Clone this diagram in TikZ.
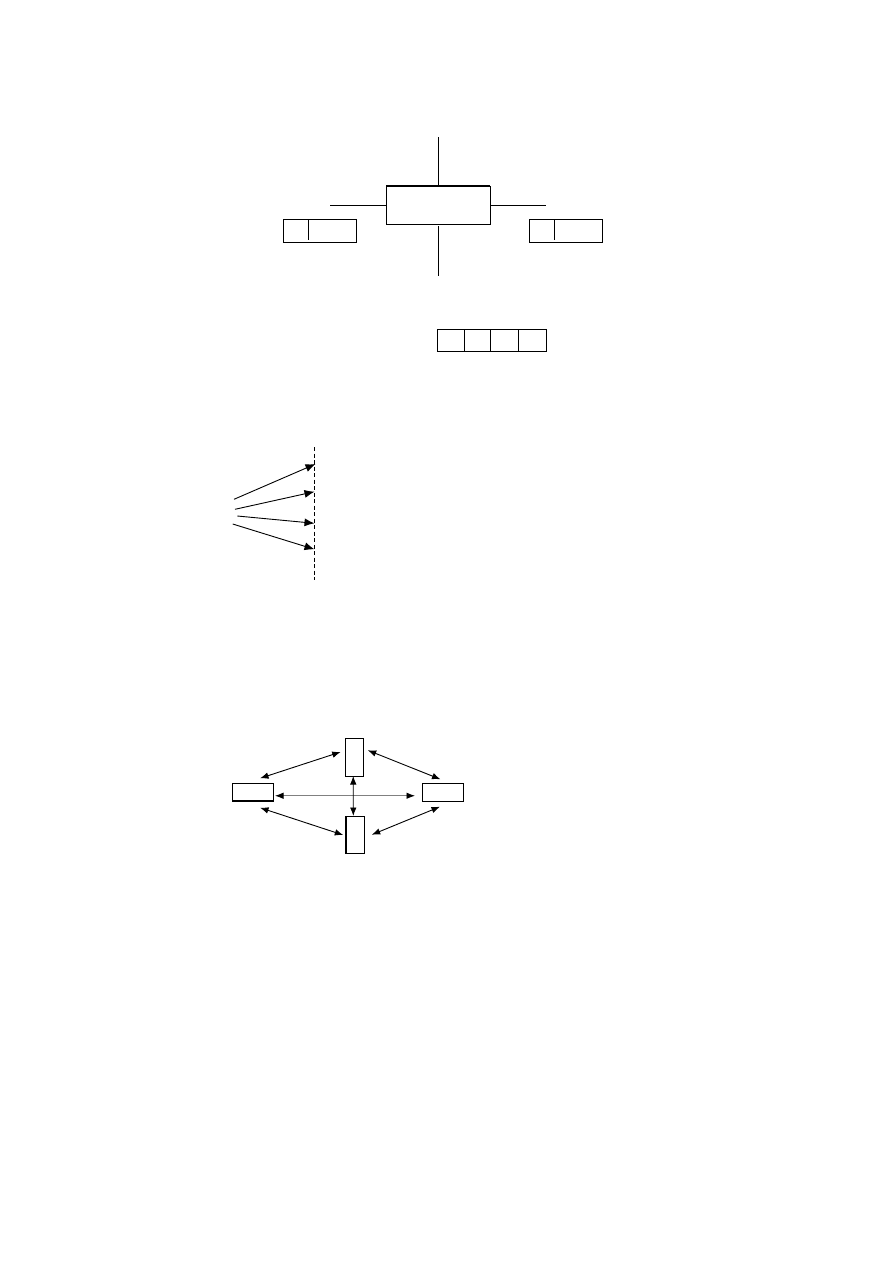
\documentclass[tikz,border=0pt]{standalone}
\usetikzlibrary{arrows.meta}
\begin{document}
\begin{tikzpicture}[x=1pt,y=-1pt,line width=0.9pt,
  box/.style={draw,rectangle,inner sep=0pt,outer sep=0pt,anchor=north west},
  tip/.tip={Latex[length=8.5pt,width=6.5pt]},
  bigtip/.tip={Latex[length=10pt,width=8pt]},
  arr/.style={-bigtip},
  darr/.style={tip-tip}]
\useasboundingbox (0,0) rectangle (893,1263);
% ---- top figure ----
\node[box,minimum width=104pt,minimum height=38.5pt] (main) at (386,186) {};
\draw[line width=2pt] (main.north west) -- (main.north east);
\coordinate (ctop) at (438,137);
\coordinate (cleft) at (330,205.25);
\coordinate (cright) at (546,205.25);
\coordinate (cbot) at (438,275.5);
\draw (main.north) -- (ctop);
\draw (main.west) -- (cleft);
\draw (main.east) -- (cright);
\draw ([yshift=-1.5pt]main.south) -- (cbot);
\node[box,minimum width=73pt,minimum height=23.5pt] (lb) at (283.5,219) {};
\draw[line width=1.8pt] (lb.north west) -- (lb.south west);
\draw ([xshift=25pt]lb.north west) -- ++(0,20.5);
\node[box,minimum width=73pt,minimum height=23.5pt] (rb) at (529.5,219) {};
\draw ([xshift=25pt]rb.north west) -- ++(0,20.5);
% ---- four cells ----
\node[box,minimum width=109.5pt,minimum height=22pt] (cells) at (437,329.5) {};
\draw ([xshift=27.5pt]cells.north west) -- ([xshift=27.5pt]cells.south west);
\draw ([xshift=53pt]cells.north west) -- ([xshift=53pt]cells.south west);
\draw ([xshift=81pt]cells.north west) -- ([xshift=81pt]cells.south west);
% ---- fan ----
\coordinate (dtop) at (314.5,447);
\coordinate (dbot) at (314.5,580);
\draw[line width=1.8pt,dash pattern=on 4pt off 2.5pt] (dtop) -- (dbot);
\coordinate (f1) at (234,499.3);  \coordinate (g1) at (315.5,464);
\coordinate (f2) at (235,509.3);  \coordinate (g2) at (314.5,491.7);
\coordinate (f3) at (237.3,516);  \coordinate (g3) at (314.5,523.3);
\coordinate (f4) at (232.7,524);  \coordinate (g4) at (314.5,549.3);
\draw[arr] (f1) -- (g1);
\draw[arr] (f2) -- (g2);
\draw[arr] (f3) -- (g3);
\draw[arr] (f4) -- (g4);
% ---- bottom figure ----
\node[box,minimum width=17.5pt,minimum height=37.5pt] (T) at (345.5,738.5) {};
\node[box,minimum width=18pt,minimum height=37.5pt] (B) at (346,816) {};
\node[box,minimum width=41pt,minimum height=17.5pt] (L) at (232.5,783.5) {};
\node[box,minimum width=41pt,minimum height=17.5pt] (R) at (422.5,783.5) {};
\draw[line width=1.6pt] (L.south west) -- (L.south east);
\draw[line width=1.6pt] (B.north west) -- (B.south west);
\draw[darr] ([shift={(-13.5,-5.2)}]L.north east) -- ([shift={(-4.8,-5.3)}]T.west);
\draw[darr] ([shift={(4.7,-7)}]T.east) -- ([shift={(18,-4.2)}]R.north west);
\draw[darr] ([shift={(-13.5,6.7)}]L.south east) -- ([shift={(-2.7,0.3)}]B.west);
\draw[darr] ([shift={(7.7,0)}]B.east) -- ([shift={(17.5,5.7)}]R.south west);
\draw[{Latex[length=8.5pt,width=6.5pt,color=black]}-{Latex[length=8.5pt,width=6.5pt,color=black]},draw=black!50] ([shift={(1.5,3.5)}]L.east) -- ([shift={(-7.5,3.5)}]R.west);
\draw[darr] ([shift={(-1,0)}]T.south) -- ([shift={(-1.7,0)}]B.north);
\end{tikzpicture}
\end{document}
